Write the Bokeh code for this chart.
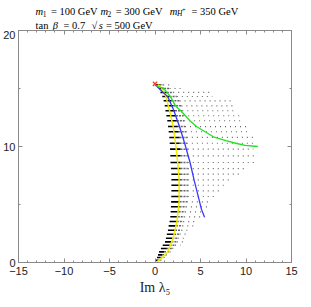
from bokeh.plotting import figure
from bokeh.layouts import column
from bokeh.models import FixedTicker, LinearAxis, Label, Range1d
from bokeh.embed import file_html
from bokeh.resources import INLINE

# ---- data ----
row_y = [15.32, 15.00, 14.66, 14.31, 13.94, 13.51, 13.08, 12.65, 12.22, 11.72,
         11.27, 10.78, 10.28, 9.77, 9.20, 8.62, 8.10, 7.61, 7.13, 6.66,
         6.18, 5.69, 5.23, 4.80, 4.37, 3.94, 3.53, 3.16, 2.78, 2.44,
         2.09, 1.78, 1.49, 1.21, 0.92, 0.66, 0.43, 0.20, 0.00]
row_left = [0.10, 0.45, 0.60, 0.80, 0.95, 1.07, 1.15, 1.25, 1.35, 1.43,
            1.50, 1.57, 1.62, 1.65, 1.68, 1.70, 1.75, 1.80, 1.80, 1.80,
            1.80, 1.79, 1.77, 1.75, 1.72, 1.68, 1.60, 1.50, 1.42, 1.30,
            1.20, 1.10, 0.85, 0.65, 0.45, 0.33, 0.22, 0.10, 0.00]
row_black = [0.5, 1.0, 1.3, 1.6, 1.8, 2.0, 2.2, 2.3, 2.4, 2.5,
             2.6, 2.7, 2.7, 2.8, 2.8, 2.8, 2.8, 2.8, 2.8, 2.8,
             2.8, 2.8, 2.7, 2.7, 2.6, 2.5, 2.4, 2.3, 2.2, 2.1,
             1.9, 1.8, 1.6, 1.3, 1.0, 0.8, 0.6, 0.4, 0.15]
row_grey = [0.9, 1.6, 2.0, 2.4, 2.7, 2.9, 3.0, 3.1, 3.2, 3.3,
            3.4, 3.5, 3.5, 3.6, 3.6, 3.6, 3.6, 3.6, 3.6, 3.6,
            3.6, 3.6, 3.5, 3.4, 3.3, 3.2, 3.1, 3.0, 2.9, 2.7,
            2.5, 2.4, 2.2, 1.9, 1.6, 1.2, 0.95, 0.6, 0.25]
row_right = [2.0, 3.1, 6.3, 6.3, 8.7, 8.7, 9.0, 9.4, 9.4, 10.0,
             10.3, 10.8, 10.8, 10.8, 11.0, 11.0, 10.2, 9.4, 8.1, 7.9,
             7.25, 6.9, 6.2, 6.0, 5.3, 5.1, 4.6, 4.2, 4.0, 3.6,
             3.3, 3.1, 2.8, 2.4, 2.0, 1.5, 1.2, 0.8, 0.3]

yellow_x = [0.3, 0.75, 1.2, 1.6, 2.0, 2.25, 2.5, 2.65, 2.65, 2.4, 2.0, 1.4, 0.7, 0.1]
yellow_y = [15.35, 15.0, 14.3, 13.1, 11.7, 10.3, 8.6, 7.1, 5.2, 3.5, 2.1, 0.9, 0.35, 0.0]

blue_x = [0.05, 0.5, 0.9, 1.4, 2.07, 2.7, 3.25, 3.86, 4.3, 4.75, 5.1, 5.45]
blue_y = [15.3, 14.95, 14.65, 14.3, 13.1, 11.7, 10.3, 8.6, 7.1, 5.7, 4.6, 3.9]

green_x = [0.1, 0.96, 1.7, 2.25, 2.8, 3.86, 4.6, 5.5, 6.5, 7.8, 8.86, 9.9, 11.3]
green_y = [15.25, 15.0, 14.3, 13.5, 13.1, 12.2, 11.7, 11.27, 10.8, 10.5, 10.28, 10.1, 10.0]

marker_x = [0.0]
marker_y = [15.4]

x_ticks = [-15, -10, -5, 0, 5, 10, 15]
x_tick_labels = ["\u221215", "\u221210", "\u22125", "0", "5", "10", "15"]
x_minor = list(range(-15, 16))
y_ticks = [0, 10, 20]
y_tick_labels = ["0", "10", "20"]
y_minor = [0, 5, 10, 15, 20]

GREY = "#8a8a8a"
W = 303
TITLE_H = 30

# ---- title strip (parameter lines) ----
t = figure(width=W, height=TITLE_H, x_range=Range1d(0, W), y_range=Range1d(0, TITLE_H),
           output_backend="svg", toolbar_location=None,
           x_axis_location=None, y_axis_location=None,
           min_border=0, min_border_left=0, min_border_right=0,
           min_border_top=0, min_border_bottom=0)
t.outline_line_color = None
t.xgrid.visible = False
t.ygrid.visible = False

def lab(x, y, text, size="10.5px", style="normal"):
    t.add_layout(Label(x=x, y=TITLE_H - y, text=text,
                       text_font="Liberation Serif", text_font_size=size,
                       text_font_style=style, text_color="black",
                       text_baseline="alphabetic", text_align="left"))

b1 = 10.5  # baseline of first line (px from top)
b2 = 25.0  # baseline of second line
s1 = b1 + 2.5
lab(19, b1, "m", style="italic"); lab(26.8, s1, "1", "7.5px"); lab(36, b1, "= 100 GeV")
lab(91, b1, "m", style="italic"); lab(98.8, s1, "2", "7.5px"); lab(108, b1, "= 300 GeV")
lab(168, b1, "m", style="italic"); lab(175.8, s1, "H", "7.5px", "italic")
lab(181.5, b1 - 1.0, "+", "6.5px"); lab(192, b1, "= 350 GeV")
lab(19, b2, "tan"); lab(38, b2, "\u03b2", style="italic"); lab(50, b2, "= 0.7")
lab(81, b2, "\u221a"); lab(89, b2, "s", style="italic"); lab(97, b2, "= 500 GeV")

# ---- main plot ----
p = figure(width=W, height=299 - TITLE_H, x_range=Range1d(-15, 15), y_range=Range1d(0, 20),
           output_backend="svg", toolbar_location=None,
           min_border_left=15, min_border_right=12, min_border_top=0, min_border_bottom=37)
p.xgrid.visible = False
p.ygrid.visible = False
p.outline_line_color = GREY

def style_axis(ax, show_labels):
    ax.axis_line_color = GREY
    ax.major_tick_line_color = GREY
    ax.minor_tick_line_color = GREY
    ax.major_tick_in = 4
    ax.major_tick_out = 0
    ax.minor_tick_in = 2
    ax.minor_tick_out = 0
    if show_labels:
        ax.major_label_text_font = "Liberation Sans"
        ax.major_label_text_font_size = "11px"
        ax.major_label_text_color = "#222222"
    else:
        ax.major_label_text_color = None
        ax.major_label_text_font_size = "1px"
        ax.major_label_standoff = 0

xa = p.xaxis[0]
xa.ticker = FixedTicker(ticks=x_ticks, minor_ticks=x_minor)
xa.major_label_overrides = {k: v for k, v in zip(x_ticks, x_tick_labels)}
style_axis(xa, True)
xa.major_label_standoff = 4
xa.axis_label = "Im \u03bb\u2085"
xa.axis_label_text_font = "Liberation Serif"
xa.axis_label_text_font_style = "normal"
xa.axis_label_text_font_size = "14px"
xa.axis_label_text_color = "#222222"
xa.axis_label_standoff = 2

ya = p.yaxis[0]
ya.ticker = FixedTicker(ticks=y_ticks, minor_ticks=y_minor)
ya.major_label_overrides = {k: v for k, v in zip(y_ticks, y_tick_labels)}
style_axis(ya, True)
ya.major_label_standoff = 3

top = LinearAxis(ticker=FixedTicker(ticks=x_ticks, minor_ticks=x_minor))
style_axis(top, False)
p.add_layout(top, "above")
right = LinearAxis(ticker=FixedTicker(ticks=y_ticks, minor_ticks=y_minor))
style_axis(right, False)
p.add_layout(right, "right")

# rows of scan points: dense black part, fading part, sparse dotted tail
p.segment(x0=row_grey, y0=row_y, x1=row_right, y1=row_y,
          line_color="#666666", line_width=1.2, line_dash="1 4")
p.segment(x0=row_black, y0=row_y, x1=row_grey, y1=row_y,
          line_color="#666666", line_width=1.5, line_dash="2 1")
p.segment(x0=row_left, y0=row_y, x1=row_black, y1=row_y,
          line_color="black", line_width=1.6)

p.line(yellow_x, yellow_y, line_color="#f2ee00", line_width=1.5)
p.line(blue_x, blue_y, line_color="#3a3aff", line_width=1.3)
p.line(green_x, green_y, line_color="#22e022", line_width=1.3)
p.scatter(marker_x, marker_y, marker="x", size=6, line_color="#ff3030", line_width=1.2)

layout = column(t, p, spacing=0)
open("out.html", "w").write(file_html(layout, INLINE))
